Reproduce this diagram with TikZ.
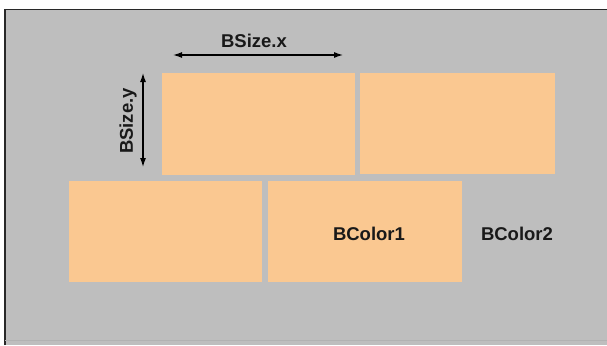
\documentclass[tikz,border=0pt]{standalone}
\usepackage{fontspec}
\setmainfont{Liberation Sans}
\usetikzlibrary{arrows.meta}
\definecolor{bggrey}{RGB}{190,190,190}
\definecolor{peach}{RGB}{250,200,145}
\definecolor{framec}{RGB}{40,40,40}
\begin{document}
\begin{tikzpicture}[x=1pt,y=-1pt,
  brick/.style={fill=peach,draw=none},
  lbl/.style={font=\bfseries\fontsize{18.5}{20}\selectfont,inner sep=0pt,text=black!90},
  dim/.style={draw=black,line width=1.2pt,{Latex[length=9pt,width=6pt]}-{Latex[length=9pt,width=6pt]}}]
\useasboundingbox (0,0) rectangle (607,345);
\fill[white] (0,0) rectangle (607,345);
\fill[bggrey] (5,9.5) rectangle (607,345);
\draw[framec,line width=1.5pt] (5,345) -- (5,9.5) -- (607,9.5);
\draw[black!30,line width=0.5pt] (5,340) -- (607,340);
% bricks
\path[brick] (162,73) rectangle (355,175);
\path[brick] (360,73) rectangle (555,174);
\path[brick] (69,181) rectangle (262,282);
\path[brick] (268,181) rectangle (462,282);
% dimension arrows
\coordinate (xa) at (173,55);
\coordinate (xb) at (343,55);
\coordinate (ya) at (143,73);
\coordinate (yb) at (143,167);
\draw[dim] (xa) -- (xb);
\draw[dim] (ya) -- (yb);
\node[lbl] (bx) at (254,41) {BSize.x};
\node[lbl,rotate=90] (by) at (128,121) {BSize.y};
\node[lbl] (c1) at (369,234) {BColor1};
\node[lbl] (c2) at (517,234) {BColor2};
\end{tikzpicture}
\end{document}
